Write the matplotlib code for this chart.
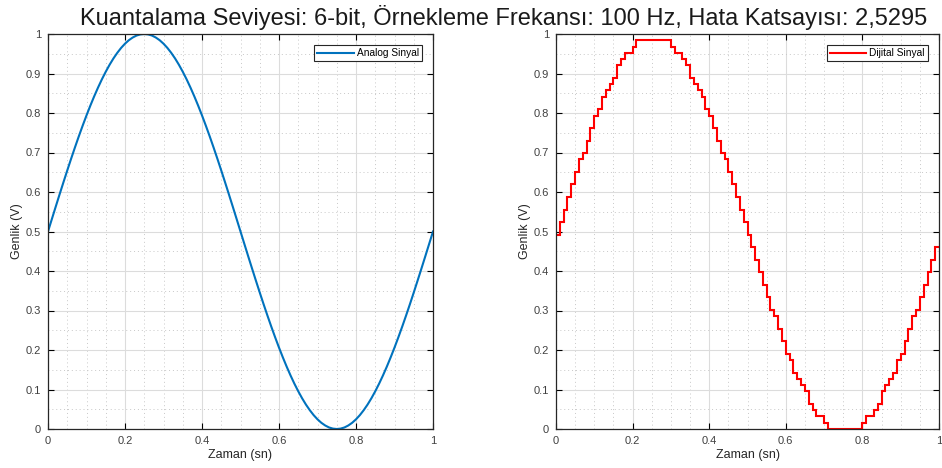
import matplotlib.pyplot as plt
import numpy as np

# zaman ekseni (0.01 s adim)
t = np.arange(101) * 0.01

# analog sinyal genligi (V)
analog = [0.5, 0.5314, 0.5627, 0.5937, 0.6243, 0.6545, 0.6841, 0.7129, 0.7409, 0.7679,
          0.7939, 0.8187, 0.8423, 0.8645, 0.8853, 0.9045, 0.9222, 0.9382, 0.9524, 0.9649,
          0.9755, 0.9843, 0.9911, 0.9961, 0.9990, 1.0, 0.9990, 0.9961, 0.9911, 0.9843,
          0.9755, 0.9649, 0.9524, 0.9382, 0.9222, 0.9045, 0.8853, 0.8645, 0.8423, 0.8187,
          0.7939, 0.7679, 0.7409, 0.7129, 0.6841, 0.6545, 0.6243, 0.5937, 0.5627, 0.5314,
          0.5, 0.4686, 0.4373, 0.4063, 0.3757, 0.3455, 0.3159, 0.2871, 0.2591, 0.2321,
          0.2061, 0.1813, 0.1577, 0.1355, 0.1147, 0.0955, 0.0778, 0.0618, 0.0476, 0.0351,
          0.0245, 0.0157, 0.0089, 0.0039, 0.0010, 0.0, 0.0010, 0.0039, 0.0089, 0.0157,
          0.0245, 0.0351, 0.0476, 0.0618, 0.0778, 0.0955, 0.1147, 0.1355, 0.1577, 0.1813,
          0.2061, 0.2321, 0.2591, 0.2871, 0.3159, 0.3455, 0.3757, 0.4063, 0.4373, 0.4686,
          0.5]

# 6-bit kuantalama seviyeleri (seviye / 63)
levels = [31, 33, 35, 37, 39, 41, 43, 44, 46, 48,
          50, 51, 53, 54, 55, 56, 58, 59, 60, 60,
          61, 62, 62, 62, 62, 62, 62, 62, 62, 62,
          61, 60, 60, 59, 58, 56, 55, 54, 53, 51,
          50, 48, 46, 44, 43, 41, 39, 37, 35, 33,
          31, 29, 27, 25, 23, 21, 19, 18, 16, 14,
          12, 11, 9, 8, 7, 6, 4, 3, 2, 2,
          1, 0, 0, 0, 0, 0, 0, 0, 0, 0,
          1, 2, 2, 3, 4, 6, 7, 8, 9, 11,
          12, 14, 16, 18, 19, 21, 23, 25, 27, 29]
digital = np.array(levels) / 63

title = 'Kuantalama Seviyesi: 6-bit, Örnekleme Frekansı: 100 Hz, Hata Katsayısı: 2,5295'

plt.rcParams['font.family'] = ['Liberation Sans', 'DejaVu Sans']

fig = plt.figure(figsize=(9.42, 4.68), dpi=100)
ax1 = fig.add_axes([48/942, 1 - 429/468, 385/942, 395/468])
ax2 = fig.add_axes([556/942, 1 - 429/468, 383/942, 395/468])

ax1.plot(t, analog, color='#0072BD', linewidth=1.5, label='Analog Sinyal')
ax2.stairs(digital, t, color='#FF0000', linewidth=1.5, label='Dijital Sinyal', baseline=None)

for ax in (ax1, ax2):
    ax.set_xlim(0, 1)
    ax.set_ylim(0, 1)
    ax.set_xticks(np.arange(0, 1.01, 0.2))
    ax.set_xticklabels(['0', '0.2', '0.4', '0.6', '0.8', '1'])
    ax.set_yticks(np.arange(0, 1.01, 0.1))
    ax.set_yticklabels(['0', '0.1', '0.2', '0.3', '0.4', '0.5', '0.6', '0.7', '0.8', '0.9', '1'])
    ax.set_xticks(np.arange(0, 1.01, 0.05), minor=True)
    ax.set_yticks(np.arange(0, 1.01, 0.05), minor=True)
    ax.grid(which='major', color='#dcdcdc', linewidth=0.8)
    ax.grid(which='minor', color='#c8c8c8', linestyle=(0, (1, 3)), linewidth=0.7)
    ax.set_axisbelow(True)
    ax.tick_params(which='major', direction='in', length=4, width=0.8, top=True, right=True,
                   labelsize=8, labelcolor='#404040', pad=5)
    ax.tick_params(which='minor', length=0)
    for s in ax.spines.values():
        s.set_linewidth(0.9)
        s.set_color('#262626')
    ax.set_xlabel('Zaman (sn)', fontsize=9, color='#262626', labelpad=2)
    ax.set_ylabel('Genlik (V)', fontsize=9, color='#262626', labelpad=2)
    leg = ax.legend(loc='upper right', fontsize=7.3, fancybox=False, framealpha=1,
                    edgecolor='#262626', handlelength=3.6, borderpad=0.3,
                    borderaxespad=1.1, handletextpad=0.3)
    leg.get_frame().set_linewidth(0.8)

fig.text(504/942, 1 - 17/468, title, ha='center', va='center', fontsize=17, color='#1a1a1a')

fig.savefig('out.png', dpi=100)
